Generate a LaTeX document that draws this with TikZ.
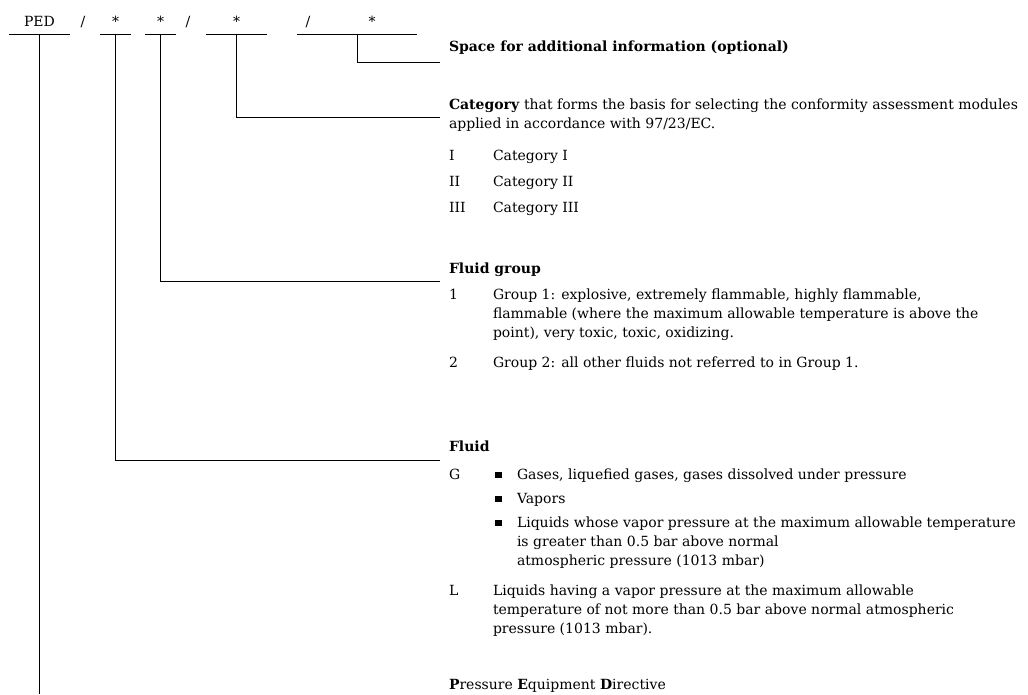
\documentclass[tikz,border=0pt]{standalone}
\usepackage{fontspec}
\setmainfont{DejaVu Serif}
\usetikzlibrary{calc}

\newcommand{\sq}{\rule[1pt]{6.5pt}{6.5pt}}
\newcommand{\para}[1]{\parbox[t]{620pt}{\raggedright #1}}

\begin{document}
\begin{tikzpicture}[
  x=1pt, y=-1pt,
  every node/.style = {inner sep=0pt, outer sep=0pt, anchor=base west,
                       font=\fontsize{14}{19}\selectfont},
  code/.style = {anchor=base},
  slot/.style = {minimum width=#1, minimum height=0pt},
  leader/.style = {line width=0.9pt}
]
  \useasboundingbox (0,0) rectangle (1028,695);

  % the code line
  \foreach \name/\x/\w in {ped/39.5/61pt, fluid/115.5/31pt, group/160.5/31pt,
                           cat/236.5/61pt, info/357/120pt}
    \node[slot=\w, anchor=center] (\name) at (\x,34) {};
  \foreach \name in {ped, fluid, group, cat, info}
    \draw[leader] (\name.west) -- (\name.east);

  \node[code] (pedcode) at (39.5,27) {PED};
  \node[code] at (83,27) {/};
  \node[code] at (115.5,27) {*};
  \node[code] at (160.5,27) {*};
  \node[code] at (188,27) {/};
  \node[code] at (236.5,27) {*};
  \node[code] at (308,27) {/};
  \node[code] at (372,27) {*};

  % explanations
  \node (infotext) at (449,52) {\textbf{Space for additional information (optional)}};

  \node (cattext) at (449,110) {\para{\textbf{Category} that forms the basis for selecting the conformity assessment modules\\
    applied in accordance with 97/23/EC.}};
  \foreach \k/\t [count=\i] in {I/Category I, II/Category II, III/Category III} {
    \node at (449,135+26*\i) {\k};
    \node at (493,135+26*\i) {\t};
  }

  \node (grouptext) at (449,273) {\textbf{Fluid group}};
  \node at (449,299) {1};
  \node at (493,299) {\para{Group 1: explosive, extremely flammable, highly flammable,\\
    flammable (where the maximum allowable temperature is above the\\
    point), very toxic, toxic, oxidizing.}};
  \node at (449,367) {2};
  \node at (493,367) {Group 2: all other fluids not referred to in Group 1.};

  \node (fluidtext) at (449,451) {\textbf{Fluid}};
  \node at (449,479) {G};
  \node at (495,479) {\sq};
  \node at (517,479) {Gases, liquefied gases, gases dissolved under pressure};
  \node at (495,503) {\sq};
  \node at (517,503) {Vapors};
  \node at (495,527) {\sq};
  \node at (517,527) {\para{Liquids whose vapor pressure at the maximum allowable temperature\\
    is greater than 0.5 bar above normal\\
    atmospheric pressure (1013 mbar)}};
  \node at (449,595) {L};
  \node at (493,595) {\para{Liquids having a vapor pressure at the maximum allowable\\
    temperature of not more than 0.5 bar above normal atmospheric\\
    pressure (1013 mbar).}};

  \node (pedtext) at (449,689) {\textbf{P}ressure \textbf{E}quipment \textbf{D}irective};

  % leaders
  \coordinate (infoend) at (440,62);
  \coordinate (catend) at (440,117);
  \coordinate (groupend) at (440,281);
  \coordinate (fluidend) at (440,460);
  \coordinate (pedend) at (40,694);
  \draw[leader] (info.center) |- (infoend);
  \draw[leader] (cat.center) |- (catend);
  \draw[leader] (group.center) |- (groupend);
  \draw[leader] (fluid.center) |- (fluidend);
  \draw[leader] (ped.center) -- (ped |- pedend);
\end{tikzpicture}
\end{document}
